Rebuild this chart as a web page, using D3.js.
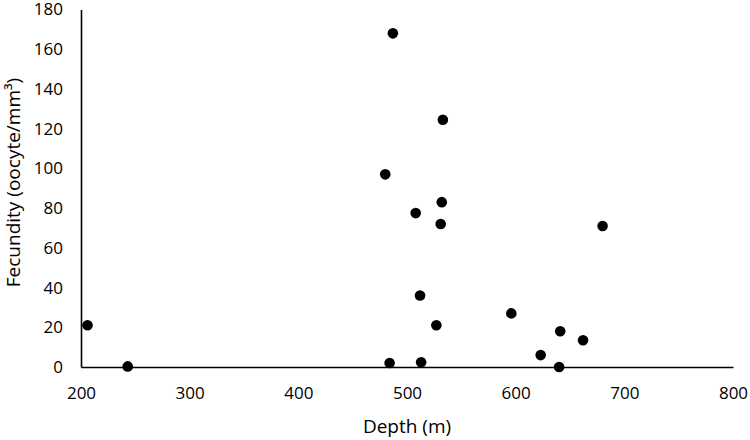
<!DOCTYPE html>
<html>
<head>
<meta charset="utf-8">
<script src="https://cdn.jsdelivr.net/npm/d3@7"></script>
<style>
  html, body { margin: 0; padding: 0; background: #fff; }
  svg text { font-family: "Open Sans", "Noto Sans", sans-serif; fill: #000; }
</style>
</head>
<body>
<svg id="chart" width="750" height="440"></svg>
<script>
const depth = [206, 243, 484, 513, 527, 596, 641, 662, 623, 640, 680, 487, 533, 480, 532, 508, 531, 512];
const fecundity = [21, 0.3, 2, 2.4, 21, 27, 18, 13.5, 6, 0, 71, 168, 124.5, 97, 83, 77.5, 72, 36];
const xTicks = [200, 300, 400, 500, 600, 700, 800];
const yTicks = [0, 20, 40, 60, 80, 100, 120, 140, 160, 180];
const xTitle = "Depth (m)";
const yTitle = "Fecundity (oocyte/mm³)";

const svg = d3.select("#chart");
const m = { left: 81, right: 17, top: 9.5, bottom: 73 };
const W = 750, H = 440;
const x = d3.scaleLinear().domain([200, 800]).range([m.left, W - m.right]);
const y = d3.scaleLinear().domain([0, 180]).range([H - m.bottom, m.top]);

const xAxis = svg.append("g")
  .attr("transform", `translate(0,${y(0)})`)
  .call(d3.axisBottom(x).tickValues(xTicks).tickSize(0).tickPadding(20).tickFormat(d3.format("d")));
xAxis.select(".domain").attr("stroke", "#000").attr("stroke-width", 1.6);
xAxis.selectAll("text").attr("font-size", 17).attr("font-family", "Open Sans, sans-serif");

const yAxis = svg.append("g")
  .attr("transform", `translate(${x(200)},0)`)
  .call(d3.axisLeft(y).tickValues(yTicks).tickSize(0).tickPadding(18).tickFormat(d3.format("d")));
yAxis.select(".domain").attr("stroke", "#000").attr("stroke-width", 1.6);
yAxis.selectAll("text").attr("font-size", 17).attr("font-family", "Open Sans, sans-serif");

svg.append("g").selectAll("circle")
  .data(depth.map((d, i) => ({ d, f: fecundity[i] })))
  .join("circle")
  .attr("cx", p => x(p.d))
  .attr("cy", p => y(p.f))
  .attr("r", 5.3)
  .attr("fill", "#000");

svg.append("text")
  .attr("x", (x(200) + x(800)) / 2)
  .attr("y", 433)
  .attr("text-anchor", "middle")
  .attr("font-size", 19)
  .text(xTitle);

svg.append("text")
  .attr("transform", `translate(20,182.5) rotate(-90)`)
  .attr("text-anchor", "middle")
  .attr("font-size", 19)
  .text(yTitle);
</script>
</body>
</html>
